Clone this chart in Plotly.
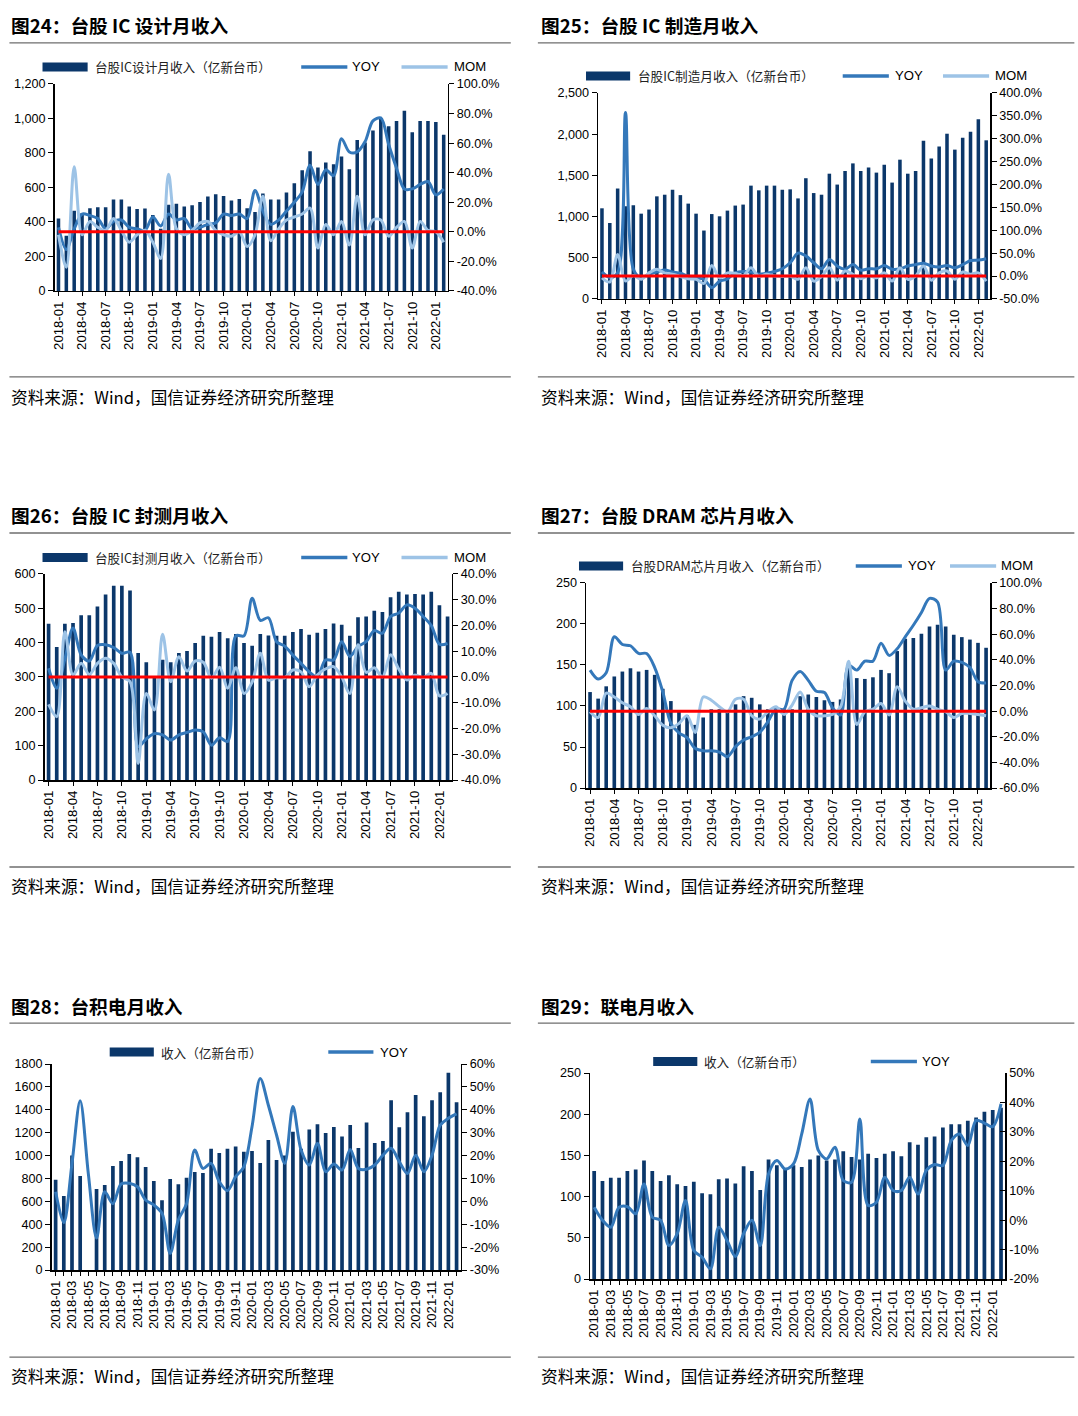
import plotly.graph_objects as go
import pandas as pd

W, H = 1078, 1416

# ---------------- data ----------------
MONTHS = [p.strftime("%Y-%m") for p in pd.period_range("2018-01", "2022-02", freq="M")]

C1_BARS = [420, 320, 465, 450, 480, 485, 485, 530, 530, 490, 475, 478, 440, 360, 500, 505, 490, 497, 515, 548,
           560, 550, 525, 533, 480, 458, 565, 530, 530, 570, 625, 700, 810, 715, 745, 735, 780, 705, 875, 860,
           930, 1000, 955, 985, 1045, 920, 985, 985, 980, 905]
C1_YOY = [3, -12, 2, 12, 11, 9, 2, 7, 8, 3, 2, 1, 10, 4, 12, 8, 9, 2, 3, 5,
          6, 12, 11, 12, 9, 28, 14, 5, 8, 14, 20, 27, 45, 32, 42, 38, 63, 54, 54, 61,
          75, 77, 59, 43, 29, 29, 32, 34, 25, 29]
C1_MOM = [-2, -24, 44, -2, 7, 3, 1, 9, 1, -7, -2, 1, -7, -18, 39, 2, -2, 1, 6, 7,
          1, -2, -3, 0, -10, -2, 24, -6, 2, 8, 10, 12, 16, -11, 5, -2, 7, -9, 24, -2,
          8, 8, -3, 3, 7, -11, 7, 1, 0, -7]

C2_BARS = [1100, 922, 1340, 1125, 1137, 1035, 1085, 1245, 1265, 1325, 1260, 1157, 1035, 830, 1030, 1003, 1072, 1133, 1145, 1375,
           1318, 1375, 1375, 1325, 1330, 1220, 1465, 1285, 1265, 1520, 1388, 1553, 1645, 1553, 1595, 1533, 1630, 1412, 1690, 1520,
           1553, 1920, 1703, 1850, 2005, 1812, 1955, 2030, 2180, 1925]
C2_YOY = [9, -3, 7, 357, 15, -4, 4, 9, 13, 9, 6, 0, -4, -7, -25, -11, -6, 7, 10, 9,
          4, 6, 10, 16, 29, 50, 44, 29, 16, 36, 22, 15, 25, 13, 16, 16, 23, 15, 16, 22,
          25, 28, 22, 20, 23, 18, 25, 34, 35, 38]
C2_MOM = [-4, -13, 47, -11, 1, -7, 7, 15, 7, 4, -1, -6, -7, -16, 23, -4, 7, 6, 1, 18,
          -1, 4, 0, -1, 0, -7, 18, -11, -1, 18, -9, 11, 4, -6, 1, -4, 7, -11, 18, -7,
          0, 22, -9, 7, 11, -7, 9, 4, 7, -11]

C3_BARS = [455, 387, 455, 457, 480, 480, 505, 540, 566, 566, 552, 370, 343, 300, 350, 343, 370, 376, 399, 420,
           417, 431, 413, 425, 399, 391, 425, 421, 420, 420, 431, 440, 423, 429, 440, 456, 452, 420, 474, 476,
           493, 489, 532, 548, 540, 542, 540, 548, 509, 476]
C3_YOY = [3.4, -4.4, 7, 19, 8.6, 6.2, 12.2, 12.5, 11.4, 9.2, 9.6, -27, -24, -22, -22.5, -24.5, -22.5, -21.5, -20.6, -21.3,
          -26.5, -23.6, -25, 16, 16, 30.6, 22, 23, 13.7, 12, 8.5, 5.3, 2, 0, 6.6, 6.6, 13.7, 8, 11.8, 13.7,
          18, 17, 23.5, 24.8, 28, 26.7, 23.5, 20, 12.7, 13]
C3_MOM = [-10.6, -15.4, 17.6, 0.8, 5.3, 1, 5.3, 7.3, 5.3, 0, -1.8, -33.6, -6.4, -12.8, 16.6, -1.8, 7.9, 2.3, 6.2, 5.7,
          -0.5, 3.8, -4.4, 3.6, -6.4, -2, 9.2, -1.2, -0.3, -0.3, 2.7, 2, -3.8, 0.8, 3.1, 4, 0, -6.4, 12.5, 1.8,
          3.6, 0, 8.6, 3.1, -1.2, 0.8, -0.3, 1.4, -7.3, -6.4]

C4_BARS = [117, 109, 124, 136, 142, 146, 142, 144, 138, 121, 106, 93, 89, 77, 86, 96, 96, 93, 102, 112,
           110, 102, 96, 98, 96, 96, 112, 114, 111, 107, 105, 108, 148, 134, 133, 135, 144, 140, 167, 182,
           183, 188, 197, 199, 197, 187, 184, 181, 177, 171]
C4_YOY = [32, 25, 30, 58, 52, 51, 45, 45, 34, 15, -9.6, -17, -20.7, -29, -31, -31, -32, -35.5, -27.7, -22.5,
          -20, -16.6, -8.3, 1.5, 1.5, 24, 31, 24, 15.5, 14.5, 2.6, -3, 35.7, 32, 39, 39, 53, 43.5, 48.7, 58,
          67, 77, 88, 85, 32, 39, 38, 34, 23, 22]
C4_MOM = [-0.5, -5, 14, 11, 6.5, 3.4, -2.6, 2, -3.6, -11, -13, -9.6, -3.6, -16.6, 11, 8.5, 3.4, -0.5, 9.3, 9.3,
          -3.6, -6.2, -0.5, 3.4, -2.6, 4.7, 15, 1.5, -3.6, -3.6, -2.6, 3.4, 39, -10.4, -0.5, 1.5, 6, -3, 19, 7.8,
          1.5, 2.6, 4, 1.5, -0.5, -5, -1.8, -1.8, -2.6, -3.6]

C5_BARS = [790, 647, 1000, 821, None, 708, 743, 909, 952, 1014, 985, 900, 778, 609, 795, 749, 807, 856, 848, 1060,
           1022, 1060, 1080, 1034, 1040, 935, 1136, 961, 1000, 1209, 1060, 1229, 1273, 1197, 1250, 1168, 1267, 1066, 1290, 1110,
           1127, 1483, 1247, 1378, 1529, 1343, 1483, 1553, 1724, 1466]
C5_YOY = [4.2, -9.3, 16.6, 44, 12, -16, 4.2, -1, 7.6, 7.9, 6.4, 0.6, -1.6, -5.2, -22.7, -8, -1, 22.4, 14.4, 16.6,
          8.6, 4.7, 10.8, 15.1, 32.6, 53.7, 42, 29, 16.6, 41.4, 22.4, 15.9, 25.3, 13, 16.3, 13.7, 22.7, 14.4, 14, 15.9,
          20.2, 23.2, 17.3, 12.2, 20.2, 13, 20.2, 33.3, 36.3, 38.2]

C6_BARS = [131, 119, 123, 123, 131, 133, 144, 131, 119, 126, 115, 113, 118, 104, 103, 121, 122, 116, 137, 131,
           108, 145, 138, 134, 138, 136, 145, 150, 144, 145, 155, 148, 145, 152, 147, 152, 155, 149, 166, 163,
           172, 173, 184, 188, 188, 192, 196, 203, 205, 208]
C6_YOY = [4.4, 0, -2.4, 4.4, 4.6, 2.2, 12.3, 1, 0, -8.6, -4.6, 6.7, -10.3, -12.6, -16.5, -2.4, -6.9, -12.3, -4.6, 0,
          -8.6, 15.7, 20.3, 17.4, 19.1, 29.3, 41.2, 23.7, 20.8, 24.8, 13.5, 12.9, 34.4, 5, 6.1, 14.6, 10.1, 10.1, 14.6, 8.9,
          16.9, 18.9, 18.6, 27, 29.3, 25.4, 33.9, 33, 31.8, 39.5]

ZERO = [0] * len(MONTHS)

TITLES = ["图24：台股 IC 设计月收入", "图25：台股 IC 制造月收入", "图26：台股 IC 封测月收入",
          "图27：台股 DRAM 芯片月收入", "图28：台积电月收入", "图29：联电月收入"]
BAR_NAMES = ["台股IC设计月收入（亿新台币）", "台股IC制造月收入（亿新台币）", "台股IC封测月收入（亿新台币）",
             "台股DRAM芯片月收入（亿新台币）", "收入（亿新台币）", "收入（亿新台币）"]
SOURCE = "资料来源：Wind，国信证券经济研究所整理"

Y1_TICKS = [list(range(0, 1201, 200)), list(range(0, 2501, 500)), list(range(0, 601, 100)),
            list(range(0, 251, 50)), list(range(0, 1801, 200)), list(range(0, 251, 50))]
Y2_TICKS = [list(range(-40, 101, 20)), list(range(-50, 401, 50)), list(range(-40, 41, 10)),
            list(range(-60, 101, 20)), list(range(-30, 61, 10)), list(range(-20, 51, 10))]

# ---------------- styling / layout ----------------
BAR_C = "#0B376A"
YOY_C = "#3478BA"
MOM_C = "#9DC3E6"
NUM_FONT = "Liberation Sans, Arial, sans-serif"
CJK_FONT = "Noto Sans CJK SC, sans-serif"

# the capture shrinks the page slightly; pixel positions below are those wanted
# in the final picture and are expanded accordingly
KY = 1.0 / 0.99
KX = 1.0065
X_ANCHOR_REF, X_ANCHOR_P = 10.0, 5.44
CY = H / 2


def fs(s):
    return round(s * KY, 2)


# plot boxes in pixels: left, right, top, bottom
BOXES = [(55, 447, 84, 291), (597, 988, 93, 299), (45, 451, 574, 780),
         (585, 988, 583, 788), (52, 460, 1064, 1270), (589, 1003, 1073, 1279)]
LEG_Y = [67, 76, 557.5, 566, 1052, 1061.5]
LEG_X = [  # bar swatch x0,x1,text x, yoy x0,x1,text, mom x0,x1,text
    (43, 88, 93, 301, 347, 350, 401, 447, 451),
    (585, 629, 635, 841, 887, 891, 941, 987, 991),
    (43, 88, 93, 301, 347, 350, 401, 447, 451),
    (578, 622, 628, 854, 900, 904, 948, 994, 997),
    (110, 154, 159, 328, 373, 378, None, None, None),
    (652, 696, 701, 869, 915, 918, None, None, None),
]
COMMA = [True, True, False, False, False, False]
Y2_DEC = [True, True, True, True, False, False]
XSTEP = [3, 3, 3, 3, 2, 2]
ALL_TICKS = [False, False, False, False, True, True]

DATA = [(C1_BARS, C1_YOY, C1_MOM), (C2_BARS, C2_YOY, C2_MOM), (C3_BARS, C3_YOY, C3_MOM),
        (C4_BARS, C4_YOY, C4_MOM), (C5_BARS, C5_YOY, None), (C6_BARS, C6_YOY, None)]


def px(x):
    return (X_ANCHOR_P + (x - X_ANCHOR_REF) * KX) / W


def py(y):
    return 1 - (CY + (y - CY) * KY) / H


fig = go.Figure()
layout = dict(width=W, height=H, margin=dict(l=0, r=0, t=0, b=0), autosize=False,
              paper_bgcolor="white", plot_bgcolor="rgba(0,0,0,0)", showlegend=False,
              bargap=0.55, font=dict(family=NUM_FONT, color="black"))
shapes, annos = [], []

for k in range(6):
    bars, yoy, mom = DATA[k]
    xn = "x" if k == 0 else f"x{k + 1}"
    y1 = "y" if k == 0 else f"y{2 * k + 1}"
    y2 = f"y{2 * k + 2}"
    l, r, t, b = BOXES[k]
    fig.add_trace(go.Bar(x=MONTHS, y=bars, marker=dict(color=BAR_C, line=dict(width=0)),
                         xaxis=xn, yaxis=y1, name=BAR_NAMES[k]))
    fig.add_trace(go.Scatter(x=MONTHS, y=yoy, mode="lines", line=dict(color=YOY_C, width=3, shape="spline", smoothing=0.9),
                             xaxis=xn, yaxis=y2, name="YOY"))
    if mom is not None:
        fig.add_trace(go.Scatter(x=MONTHS, y=mom, mode="lines", line=dict(color=MOM_C, width=3, shape="spline", smoothing=0.9),
                                 xaxis=xn, yaxis=y2, name="MOM"))
    if k < 4:
        fig.add_trace(go.Scatter(x=MONTHS, y=ZERO, mode="lines", line=dict(color="#FF0000", width=3),
                                 xaxis=xn, yaxis=y2, name="zero"))

    if ALL_TICKS[k]:
        tv = MONTHS
        tt = [m if i % XSTEP[k] == 0 else "" for i, m in enumerate(MONTHS)]
    else:
        tv = MONTHS[::XSTEP[k]]
        tt = tv
    xkey = "xaxis" if k == 0 else f"xaxis{k + 1}"
    layout[xkey] = dict(domain=[px(l), px(r)], anchor=y1, type="category", range=[-0.5, len(MONTHS) - 0.5],
                        tickmode="array", tickvals=tv, ticktext=tt, tickangle=-90,
                        ticks="outside", ticklen=4, tickwidth=1, tickcolor="black",
                        showline=True, linecolor="black", linewidth=1.5, showgrid=False, zeroline=False,
                        tickfont=dict(family=NUM_FONT, size=fs(13), color="black"), fixedrange=True)
    y1t = Y1_TICKS[k]
    y1l = [f"{v:,}" if COMMA[k] else str(v) for v in y1t]
    y2t = Y2_TICKS[k]
    y2l = [f"{v:.1f}%" if Y2_DEC[k] else f"{v}%" for v in y2t]
    y1key = "yaxis" if k == 0 else f"yaxis{2 * k + 1}"
    y2key = f"yaxis{2 * k + 2}"
    layout[y1key] = dict(domain=[py(b), py(t)], anchor=xn, range=[y1t[0], y1t[-1]],
                         tickmode="array", tickvals=y1t, ticktext=y1l,
                         ticks="outside", ticklen=5, tickwidth=1, tickcolor="black",
                         showline=True, linecolor="black", linewidth=1.5, showgrid=False, zeroline=False,
                         tickfont=dict(family=NUM_FONT, size=fs(12.5), color="black"), fixedrange=True)
    layout[y2key] = dict(domain=[py(b), py(t)], anchor=xn, overlaying=y1, side="right",
                         range=[y2t[0], y2t[-1]], tickmode="array", tickvals=y2t, ticktext=y2l,
                         ticks="inside" if k == 5 else "outside", ticklen=5, tickwidth=1, tickcolor="black",
                         showline=True, linecolor="black", linewidth=1.5, showgrid=False, zeroline=False,
                         tickfont=dict(family=NUM_FONT, size=fs(12.5), color="black"), fixedrange=True)

    # legend (manual)
    ly = LEG_Y[k]
    bx0, bx1, btx, yx0, yx1, ytx, mx0, mx1, mtx = LEG_X[k]
    shapes.append(dict(type="rect", xref="paper", yref="paper", x0=px(bx0), x1=px(bx1),
                       y0=py(ly + 4.5), y1=py(ly - 4.5), fillcolor=BAR_C, line=dict(width=0)))
    annos.append(dict(x=px(btx), y=py(ly), xref="paper", yref="paper", text=BAR_NAMES[k], showarrow=False,
                      xanchor="left", yanchor="middle", font=dict(family=CJK_FONT, size=fs(12.5), color="#222")))
    shapes.append(dict(type="line", xref="paper", yref="paper", x0=px(yx0), x1=px(yx1), y0=py(ly), y1=py(ly),
                       line=dict(color=YOY_C, width=3.5)))
    annos.append(dict(x=px(ytx), y=py(ly), xref="paper", yref="paper", text="YOY", showarrow=False,
                      xanchor="left", yanchor="middle", font=dict(family=NUM_FONT, size=fs(13), color="black")))
    if mx0 is not None:
        shapes.append(dict(type="line", xref="paper", yref="paper", x0=px(mx0), x1=px(mx1), y0=py(ly), y1=py(ly),
                           line=dict(color=MOM_C, width=3.5)))
        annos.append(dict(x=px(mtx), y=py(ly), xref="paper", yref="paper", text="MOM", showarrow=False,
                          xanchor="left", yanchor="middle", font=dict(family=NUM_FONT, size=fs(13), color="black")))

# titles, separators, sources
ROW_TITLE_Y = [25, 515, 1005]
ROW_TOPLINE_Y = [43, 533, 1023]
ROW_SRCLINE_Y = [377, 867, 1357]
ROW_SRC_Y = [397, 886, 1376]
COLS = [(10, 510, 10), (537, 1072, 538)]
for row in range(3):
    for col in range(2):
        x0, x1, tx = COLS[col]
        idx = row * 2 + col
        annos.append(dict(x=px(tx), y=py(ROW_TITLE_Y[row]), xref="paper", yref="paper", text=TITLES[idx],
                          showarrow=False, xanchor="left", yanchor="middle",
                          font=dict(family=CJK_FONT, size=fs(18.5), color="black", weight="bold")))
        annos.append(dict(x=px(tx), y=py(ROW_SRC_Y[row]), xref="paper", yref="paper", text=SOURCE,
                          showarrow=False, xanchor="left", yanchor="middle",
                          font=dict(family=CJK_FONT, size=fs(16.5), color="black")))
        for yy in (ROW_TOPLINE_Y[row], ROW_SRCLINE_Y[row]):
            shapes.append(dict(type="line", xref="paper", yref="paper", x0=px(x0), x1=px(x1),
                               y0=py(yy), y1=py(yy), line=dict(color="#6E6E6E", width=1.3)))

layout["shapes"] = shapes
layout["annotations"] = annos
fig.update_layout(**layout)
fig.write_html("out.html", config={"displayModeBar": False, "staticPlot": True},
               post_script="document.body.style.margin='0';document.body.style.padding='0';"
                           "document.body.style.overflow='hidden';"
                           "document.documentElement.style.overflow='hidden';")
